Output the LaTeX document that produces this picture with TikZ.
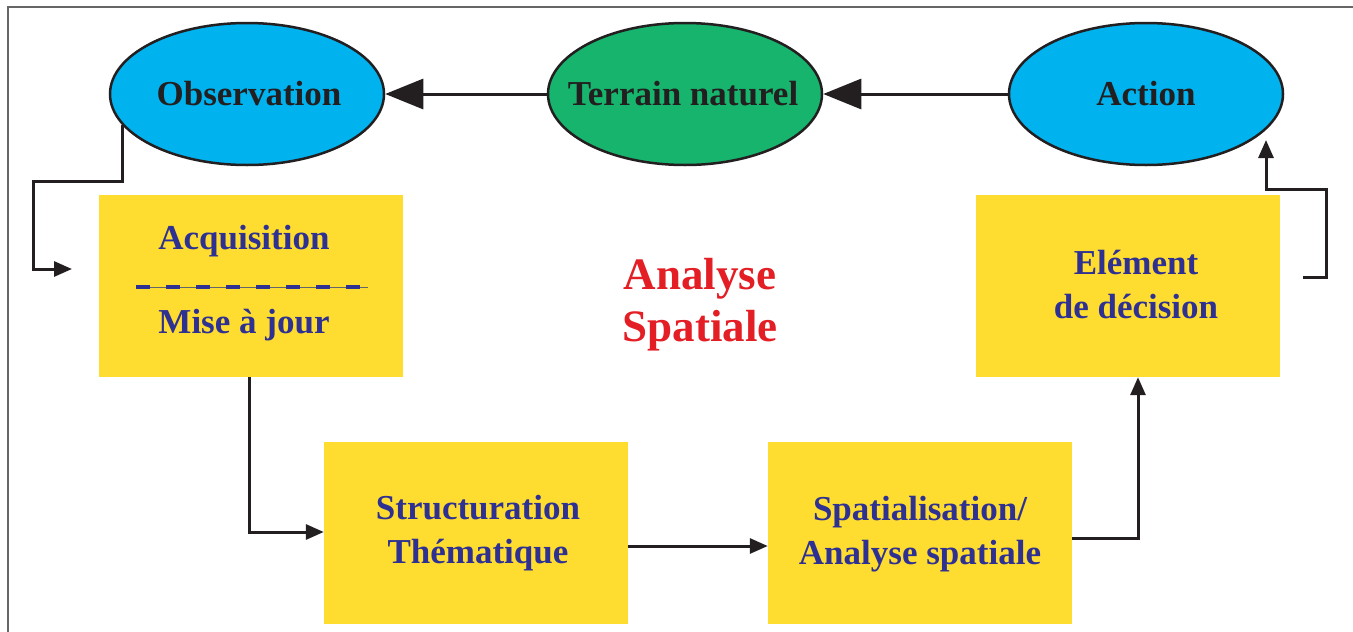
\documentclass[tikz,border=0pt]{standalone}
\usepackage{fontspec}
\setmainfont{Liberation Serif}
\usetikzlibrary{shapes.geometric,arrows.meta,calc}
\definecolor{cyanfill}{HTML}{00B2EE}
\definecolor{greenfill}{HTML}{16B46C}
\definecolor{yellowfill}{HTML}{FEDD30}
\definecolor{navytext}{HTML}{2E3192}
\definecolor{redtext}{HTML}{E31E24}
\definecolor{darktext}{HTML}{231F20}
\definecolor{framegray}{HTML}{666666}
\tikzset{
  ell/.style={ellipse, draw=darktext, line width=2.5pt, minimum width=274pt, minimum height=142pt, inner sep=0pt},
  elltext/.style={font=\fontsize{35}{42}\selectfont\bfseries, text=darktext, inner sep=0pt},
  ybox/.style={rectangle, fill=yellowfill, minimum width=304pt, minimum height=182pt, inner sep=0pt},
  boxtext/.style={font=\fontsize{35}{44}\selectfont\bfseries, text=navytext, align=center, inner sep=0pt},
  conn/.style={draw=darktext, line width=3pt},
  bigtip/.style={-{Triangle[length=38pt,width=30pt]}},
  smalltip/.style={-{Triangle[length=18pt,width=15pt]}}
}
\begin{document}
\begin{tikzpicture}[x=1pt,y=-1pt]
\useasboundingbox (0,0) rectangle (1353,632);
% frame
\draw[framegray, line width=2pt] (8,632) -- (8,7) -- (1353,7);
% ellipses
\node[ell, fill=cyanfill] (obs) at (247,94) {};
\node[elltext] (obst) at (249,94) {Observation};
\node[ell, fill=greenfill] (ter) at (685,94) {};
\node[elltext] (tert) at (683,94) {Terrain naturel};
\node[ell, fill=cyanfill] (act) at (1146,94) {};
\node[elltext] (actt) at (1146,94) {Action};
% boxes
\node[ybox] (acq) at (251,286) {};
\node[boxtext, anchor=base] (acqt) at (244,249) {Acquisition};
\node[boxtext, anchor=base] (mise) at (244,333) {Mise à jour};
\coordinate (dl) at (136,287);
\coordinate (dr) at (368,287);
\draw[framegray, line width=1pt] (dl) -- (dr);
\draw[navytext, line width=3.5pt, dash pattern=on 13.5pt off 16.5pt] (dl) -- (dr);
\node[ybox] (str) at (476,533) {};
\node[boxtext] (strt) at (478,533) {Structuration\\Thématique};
\node[ybox] (spa) at (920,533) {};
\node[boxtext] (spat) at (920,534) {Spatialisation/\\Analyse spatiale};
\node[ybox] (ele) at (1128,286) {};
\node[boxtext] (elet) at (1136,285) {Elément\\de décision};
% center label
\node[font=\fontsize{45}{52}\selectfont\bfseries, text=redtext, align=center, inner sep=0pt] (ana) at (700,305) {Analyse\\Spatiale};
% connectors
\draw[conn, bigtip] (ter.west) -- (obs.east);
\draw[conn, bigtip] (act.west) -- (ter.east);
\coordinate (acqin) at (72,269);
\draw[conn, smalltip] (obs.194) -- (obs.194 |- 0,181) -- (33,181) -- (33,269) -- (acqin);
\draw[conn, smalltip] (acq.south -| 249,0) -- (249,532) -- (str.west |- 0,532);
\draw[conn, smalltip] ([yshift=-13pt]str.east) -- ([yshift=-13pt]spa.west);
\draw[conn, smalltip] ([yshift=-5pt]spa.east) -- (1138,538) -- (ele.south -| 1138,0);
\coordinate (elout) at (1303,277);
\coordinate (actin) at (1266,140);
\draw[conn, smalltip] (elout) -- (1326,277) -- (1326,189) -- (1266,189) -- (actin);
\end{tikzpicture}
\end{document}
